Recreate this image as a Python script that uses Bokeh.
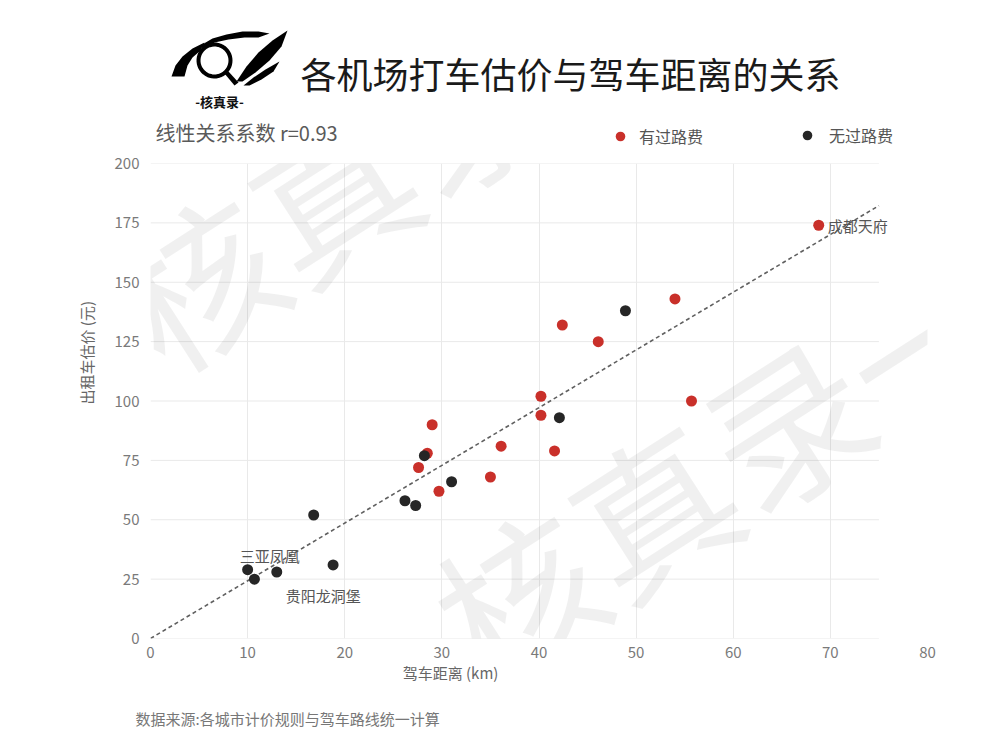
import numpy as np
from bokeh.plotting import figure
from bokeh.layouts import column, row
from bokeh.models import (Label, Legend, LegendItem, FixedTicker, PolyAnnotation, Range1d)
from bokeh.embed import file_html
from bokeh.resources import INLINE

# ---------------- data ----------------
toll_x = [27.6, 28.5, 29.0, 29.7, 35.0, 36.1, 40.2, 40.2, 41.6, 42.4, 46.1, 54.0, 55.7, 68.8]
toll_y = [72, 78, 90, 62, 68, 81, 102, 94, 79, 132, 125, 143, 100, 174]
notoll_x = [10.0, 10.7, 13.0, 16.8, 18.8, 26.2, 27.3, 28.2, 31.0, 42.1, 48.9]
notoll_y = [29, 25, 28, 52, 31, 58, 56, 77, 66, 93, 138]
fit_x = [0, 75]
fit_slope = 2.43
x_ticks = [0, 10, 20, 30, 40, 50, 60, 70, 80]
y_ticks = [0, 25, 50, 75, 100, 125, 150, 175, 200]
hgrid_end = 75
series_names = ["有过路费", "无过路费"]
annotations = [("成都天府", 68.8, 174), ("三亚凤凰", 10.0, 29), ("贵阳龙洞堡", 13.0, 28)]

FONT = "Noto Sans CJK SC"
RED = "#c9302a"
BLACK = "#262626"
GRID = "#e9e9e9"

# ---------------- page geometry ----------------
W = 992
HEAD_H = 150                 # header strip: page y 0..150
MAIN_TOP, MAIN_BOT = 150, 662
FOOT_H = 80                  # footer strip: page y 662..742
STRIP_W = 100
FL, FT, FR, FB = 150, 163, 927, 638   # plot frame on the page


def bare(w, h):
    f = figure(width=w, height=h, x_range=Range1d(0, w), y_range=Range1d(0, h),
               x_axis_type=None, y_axis_type=None, min_border=0,
               toolbar_location=None, output_backend="svg", outline_line_color=None,
               background_fill_color="white", border_fill_color="white")
    return f


def put(fig, top, text, px, py, size, color, align="left", angle=0.0, style="normal",
        alpha=1.0, left=0):
    fig.add_layout(Label(x=px - left, y=fig.height - (py - top), text=text,
                         text_font=FONT, text_font_size=size, text_color=color,
                         text_align=align, text_baseline="middle", angle=angle,
                         text_font_style=style, text_alpha=alpha))


# ---------------- header ----------------
head = bare(W, HEAD_H)
put(head, 0, "各机场打车估价与驾车距离的关系", 300, 72, "36px", "#1a1a1a")
put(head, 0, "-核真录-", 219, 101, "13px", "#111111", align="center", style="bold")
put(head, 0, "线性关系系数  r=0.93", 155, 132, "20px", "#5a5a5a")


def poly(fig, pts, fill="black", line=None, lw=0):
    xs = [a for a, b in pts]
    ys = [fig.height - b for a, b in pts]
    fig.add_layout(PolyAnnotation(xs=xs, ys=ys, fill_color=fill if fill else "white",
                                  fill_alpha=1 if fill else 0,
                                  line_color=line if line else "black", line_width=lw,
                                  line_alpha=1 if line else 0))


# logo: eye outline, magnifier and quill strokes
poly(head, [(171, 76), (175, 65), (182, 56), (192, 48), (204, 42), (200, 50),
            (192, 57), (187, 65), (184, 76)])
poly(head, [(200, 45), (212, 38), (226, 34), (242, 31), (258, 31), (269, 33), (258, 37),
            (244, 37), (228, 39), (214, 42), (203, 49)])
poly(head, [(236, 81), (246, 66), (258, 52), (272, 40), (287, 30), (281, 46), (269, 60),
            (255, 72), (242, 81)])
poly(head, [(243, 85), (253, 77), (265, 69), (279, 61), (273, 71), (261, 79), (249, 85)])
ang = np.linspace(0, 2 * np.pi, 48)
poly(head, list(zip(214 + 16 * np.cos(ang), 60 + 16 * np.sin(ang))), fill=None,
     line="black", lw=4)
poly(head, [(224, 73), (228, 71), (238, 82), (234, 85)])

# legend (dummy renderers carry the series styles; their point is NaN, never drawn)
d_red = head.scatter(x=[float("nan")], y=[float("nan")], size=11, fill_color=RED, line_color=None)
d_blk = head.scatter(x=[float("nan")], y=[float("nan")], size=11, fill_color=BLACK, line_color=None)
G = 24
for rend, name, cx, cy, so in [(d_red, series_names[0], 620, 136, 7),
                               (d_blk, series_names[1], 807, 135, 10)]:
    lg = Legend(items=[LegendItem(label=name, renderers=[rend])],
                location=(cx - G / 2, HEAD_H - (cy + G / 2)), orientation="horizontal",
                glyph_width=G, glyph_height=G, label_height=G, padding=0, margin=0,
                spacing=0, label_standoff=so, border_line_color=None,
                background_fill_alpha=0, label_text_font=FONT,
                label_text_font_size="16px", label_text_color="#555555")
    head.add_layout(lg, "center")

# ---------------- main plot ----------------
p = figure(width=W - STRIP_W, height=MAIN_BOT - MAIN_TOP, output_backend="svg",
           toolbar_location=None, x_range=Range1d(0, 80), y_range=Range1d(0, 200),
           min_border_left=FL - STRIP_W, min_border_right=W - FR,
           min_border_top=FT - MAIN_TOP, min_border_bottom=MAIN_BOT - FB,
           background_fill_color="white", border_fill_color="white",
           outline_line_color=None)

p.xaxis.ticker = FixedTicker(ticks=x_ticks)
p.yaxis.ticker = FixedTicker(ticks=y_ticks)
for ax in (p.xaxis[0], p.yaxis[0]):
    ax.axis_line_color = None
    ax.major_tick_line_color = None
    ax.minor_tick_line_color = None
    ax.major_label_text_font = FONT
    ax.major_label_text_font_size = "15px"
    ax.major_label_text_color = "#7a7a7a"
p.xaxis.major_label_standoff = 2
p.yaxis.major_label_standoff = 5

p.xgrid.grid_line_color = GRID
p.ygrid.grid_line_color = None
p.segment(x0=[0] * len(y_ticks), y0=y_ticks, x1=[hgrid_end] * len(y_ticks), y1=y_ticks,
          line_color=GRID, line_width=1)

# watermark
for cx, cy in [(330, 190), (650, 505)]:
    p.add_layout(Label(x=cx - FL, y=FB - cy, x_units="screen", y_units="screen",
                       text="一核真录一", text_font=FONT, text_font_size="160px",
                       text_color="#000000", text_alpha=0.06, text_align="center",
                       text_baseline="middle", angle=0.57))

p.line(fit_x, [fit_slope * v for v in fit_x], line_color="#606060", line_width=1.6,
       line_dash="4 3")
p.scatter(toll_x, toll_y, size=11, fill_color=RED, line_color=None)
p.scatter(notoll_x, notoll_y, size=11, fill_color=BLACK, line_color=None)

ann_offsets = {"成都天府": (9, 0), "三亚凤凰": (-8, 14), "贵阳龙洞堡": (9, -23)}
for txt, ax_, ay_ in annotations:
    ox, oy = ann_offsets[txt]
    p.add_layout(Label(x=ax_, y=ay_, text=txt, x_offset=ox, y_offset=oy,
                       text_font=FONT, text_font_size="15px", text_color="#555555",
                       text_align="left", text_baseline="middle"))

# ---------------- left strip (y title) ----------------
strip = bare(STRIP_W, MAIN_BOT - MAIN_TOP)
put(strip, MAIN_TOP, "出租车估价 (元)", 86, 354, "15px", "#666666", align="center",
    angle=np.pi / 2)

# ---------------- footer ----------------
foot = bare(W, FOOT_H)
put(foot, MAIN_BOT, "驾车距离 (km)", 450, 672, "15px", "#666666", align="center")
put(foot, MAIN_BOT, "数据来源:各城市计价规则与驾车路线统一计算", 135, 718, "15px", "#777777")

layout = column(head, row(strip, p, spacing=0), foot, spacing=0)
open("out.html", "w").write(file_html(layout, INLINE))
